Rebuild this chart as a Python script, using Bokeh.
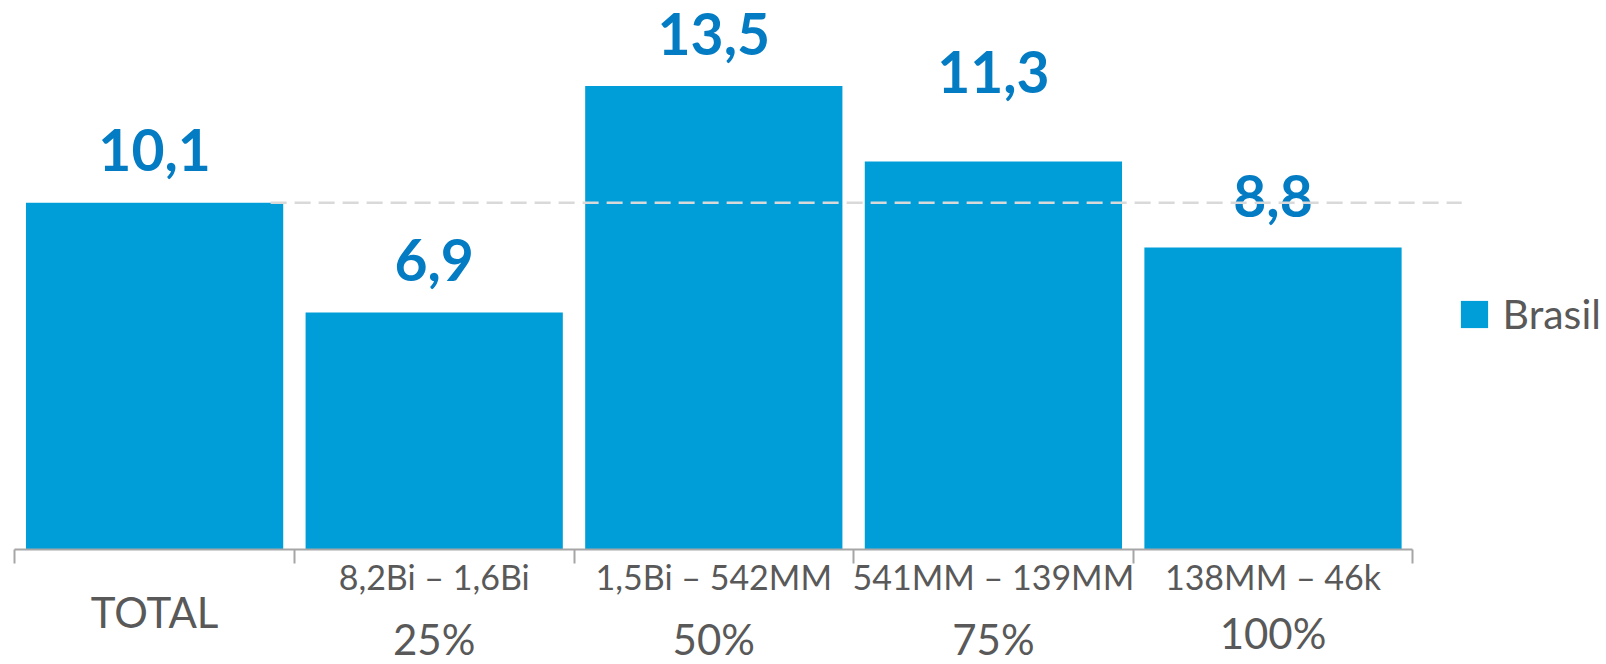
from bokeh.plotting import figure
from bokeh.models import Range1d, FixedTicker, LinearAxis, Legend, LegendItem, ColumnDataSource
from bokeh.core.properties import value
from bokeh.embed import file_html
from bokeh.resources import INLINE

# ---- data ----
categories = ["TOTAL", "25%", "50%", "75%", "100%"]
range_labels = ["", "8,2Bi – 1,6Bi", "1,5Bi – 542MM", "541MM – 139MM", "138MM – 46k"]
values = [10.1, 6.9, 13.5, 11.3, 8.8]
series_name = "Brasil"

# ---- styling / layout constants ----
FONT = "Lato"
BAR_COLOR = "#009ED9"
LABEL_COLOR = "#047CC3"
TEXT_GRAY = "#595959"
AXIS_GRAY = "#A6A6A6"
PX_PER_CAT = 279.6
PX_PER_UNIT = 34.33
LEFT_PAD = 14.3
W, H = 1606, 664
AXIS_Y = 549                                  # pixel row of the category axis
label_dy = [-53, -53, -52, -90, -51]          # value-label pixel offsets above bar tops
cat_dy = [62, 89, 89, 89, 83]                 # category-label pixel offsets below the axis
ref_start, ref_end = 1.415, 5.675             # reference line extent (category units)

xs = list(range(1, len(values) + 1))
value_text = [f"{v:.1f}".replace(".", ",") for v in values]

x0 = 0.5 - LEFT_PAD / PX_PER_CAT
x1 = x0 + W / PX_PER_CAT
y0 = -(H - AXIS_Y) / PX_PER_UNIT
y1 = AXIS_Y / PX_PER_UNIT

p = figure(width=W, height=H, x_range=Range1d(x0, x1), y_range=Range1d(y0, y1),
           output_backend="svg", toolbar_location=None,
           x_axis_location=None, y_axis_location=None, min_border=0)
p.grid.visible = False
p.outline_line_color = None

src = ColumnDataSource(dict(x=xs, top=values, text=value_text, dy=label_dy))
bars = p.vbar(x="x", top="top", bottom=0, width=0.92, source=src,
              fill_color=BAR_COLOR, line_color=None)

p.text(x="x", y="top", text="text", y_offset="dy", source=src,
       text_font=value(FONT), text_font_style="bold", text_font_size="57px",
       text_color=LABEL_COLOR, text_align="center", text_baseline="middle")

p.segment(x0=[ref_start], y0=[values[0]], x1=[ref_end], y1=[values[0]],
          line_color="#D9D9D9", line_width=2.5, line_dash="16 8")

# x axis at value 0: boundary ticks + range labels
bounds = [0.5 + i for i in range(len(values) + 1)]
ax1 = LinearAxis(ticker=FixedTicker(ticks=xs, minor_ticks=bounds),
                 bounds=(bounds[0], bounds[-1]), fixed_location=0)
ax1.major_label_overrides = {x: r for x, r in zip(xs, range_labels)}
ax1.major_tick_out = 0
ax1.major_tick_in = 0
ax1.major_tick_line_color = None
ax1.minor_tick_out = 14
ax1.minor_tick_in = 0
ax1.minor_tick_line_color = AXIS_GRAY
ax1.minor_tick_line_width = 2
ax1.axis_line_color = AXIS_GRAY
ax1.axis_line_width = 2
ax1.major_label_text_font = FONT
ax1.major_label_text_font_size = "34px"
ax1.major_label_text_color = TEXT_GRAY
ax1.major_label_standoff = -8
p.add_layout(ax1, "below")

# category labels (TOTAL / percentiles) under the range labels
cat_src = ColumnDataSource(dict(x=xs, y=[0] * len(xs), text=categories, dy=cat_dy))
p.text(x="x", y="y", text="text", y_offset="dy", source=cat_src,
       text_font=value(FONT), text_font_size="42px", text_color=TEXT_GRAY,
       text_align="center", text_baseline="middle")

legend = Legend(items=[LegendItem(label=series_name, renderers=[bars])],
                location=(1456.6, 211 + (H - AXIS_Y)), orientation="vertical",
                glyph_width=34, glyph_height=34, label_height=34,
                label_standoff=12, padding=0, margin=0, spacing=0,
                border_line_color=None, background_fill_alpha=0,
                label_text_font=FONT, label_text_font_size="41px",
                label_text_color=TEXT_GRAY)
p.add_layout(legend, "center")

open("out.html", "w").write(file_html(p, INLINE))
